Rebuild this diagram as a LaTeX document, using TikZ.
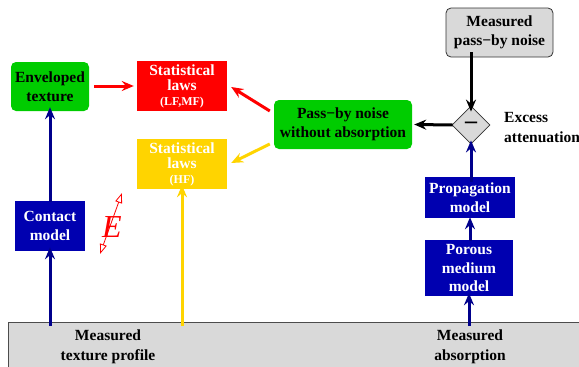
\documentclass[tikz,border=0pt]{standalone}
\usepackage{fontspec}
\setmainfont{Liberation Serif}
\usetikzlibrary{arrows.meta,shapes.geometric,calc}
\definecolor{cgreen}{RGB}{0,204,0}
\definecolor{cred}{RGB}{255,0,0}
\definecolor{cyel}{RGB}{255,212,0}
\definecolor{cblue}{RGB}{0,0,176}
\definecolor{cnavy}{RGB}{0,0,140}
\definecolor{cgray}{RGB}{217,217,217}
\begin{document}
\begin{tikzpicture}[x=1pt,y=-1pt,
  lbl/.style={font=\fontsize{15.5}{19.5}\selectfont\bfseries, align=center, inner sep=0pt},
  greenbox/.style={lbl, fill=cgreen, rounded corners=5pt, text=black},
  redbox/.style={lbl, fill=cred, text=white, font=\fontsize{15.5}{15}\selectfont\bfseries},
  yelbox/.style={lbl, fill=cyel, text=white, font=\fontsize{15.5}{15}\selectfont\bfseries},
  bluebox/.style={lbl, fill=cblue, text=white, font=\fontsize{15.5}{18.5}\selectfont\bfseries},
  graybox/.style={lbl, fill=cgray, draw=black!80, line width=0.8pt, rounded corners=5pt},
  arr/.style={line width=3pt, -{Stealth[length=12pt,width=10pt,inset=4pt]}}
]
\useasboundingbox (0,0) rectangle (579,367);
\clip (0,0) rectangle (579,367);

% bottom band
\node[draw=black!70, fill=cgray, line width=1pt, minimum width=620, minimum height=60,
      anchor=north west, inner sep=0pt] (band) at (8,322) {};
\node[lbl] (tex) at (108,347) {Measured\\texture profile};
\node[lbl] (abs) at (470,347) {Measured\\absorption};

% boxes
\node[greenbox, minimum width=78, minimum height=49] (env) at (50,86.5) {Enveloped\\texture};
\node[redbox, minimum width=90, minimum height=50] (red) at (182,86)
  {Statistical\\laws\\[0pt]{\fontsize{12}{12}\selectfont(LF,MF)}};
\node[yelbox, minimum width=90, minimum height=50] (yel) at (182,164)
  {Statistical\\laws\\[0pt]{\fontsize{12}{12}\selectfont(HF)}};
\node[greenbox, minimum width=138, minimum height=49] (pass) at (343,124.5)
  {Pass−by noise\\without absorption};
\node[graybox, minimum width=107, minimum height=49] (meas) at (499.5,32.5)
  {Measured\\pass−by noise};
\node[diamond, aspect=1, draw=black!80, fill=cgray, line width=0.8pt, inner sep=0pt,
      minimum width=38, minimum height=38, font=\fontsize{24}{24}\selectfont\bfseries] (dia) at (471,125) {–};
\node[lbl, align=left, anchor=west, font=\fontsize{15.5}{20.5}\selectfont\bfseries] (exc) at (504,127.5)
  {Excess\\attenuation};
\node[bluebox, minimum width=70, minimum height=50] (con) at (50,226) {Contact\\model};
\node[bluebox, minimum width=90, minimum height=41] (prop) at (470,197.5) {Propagation\\model};
\node[bluebox, minimum width=88, minimum height=56] (por) at (469,268) {Porous\\medium\\model};

% E label and its arrow
\coordinate (etop) at (122,193);
\coordinate (ebot) at (100,254);
\draw[cred, line width=0.8pt, {Triangle[open,length=10pt,width=7pt,fill=white]}-{Triangle[open,length=10pt,width=7pt,fill=white]}]
  (ebot) -- (etop);
\node[text=cred, font=\fontsize{32}{32}\selectfont\itshape, inner sep=0pt] (E) at (112,227) {E};

% connectors
\draw[arr, cred] ([xshift=5pt]env.east |- 0,86) -- ([xshift=-3pt]red.west |- 0,86);
\draw[arr, cred] ([shift={(-4,-13.5)}]pass.west) -- ([shift={(4,1)}]red.east);
\draw[arr, cyel] ([shift={(-4,19.5)}]pass.west) -- ([shift={(4,-1)}]yel.east);
\draw[arr, black] ([yshift=5pt]meas.south -| dia.north) -- ([yshift=-6pt]dia.north);
\draw[arr, black] ([xshift=1pt]dia.west) -- ([xshift=2pt]pass.east);
\draw[arr, cnavy] ([yshift=-5pt]prop.north -| dia.south) -- ([yshift=4pt]dia.south);
\draw[arr, cnavy] ([yshift=-1pt]por.north -| prop.south) -- ([yshift=1pt]prop.south);
\draw[arr, cnavy] ([yshift=-4pt]band.north -| por.south) -- ([yshift=3pt]por.south);
\draw[arr, cnavy] ([yshift=-4pt]band.north -| con.south) -- ([yshift=4pt]con.south);
\draw[arr, cnavy] ([yshift=-1pt]con.north) -- ([yshift=4pt]env.south);
\draw[arr, cyel] ([yshift=-4pt]band.north -| yel.south) -- ([yshift=4pt]yel.south);
\end{tikzpicture}
\end{document}
